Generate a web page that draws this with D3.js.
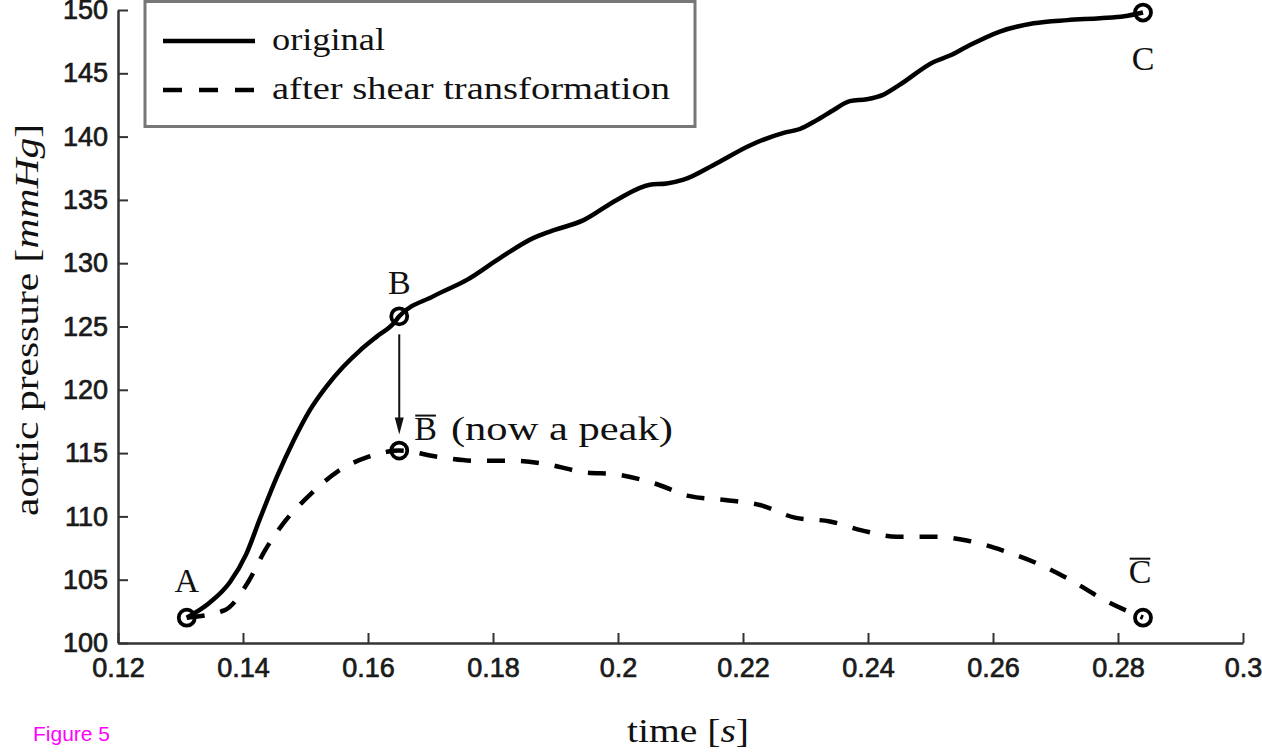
<!DOCTYPE html>
<html>
<head>
<meta charset="utf-8">
<script src="https://cdn.jsdelivr.net/npm/d3@7"></script>
<style>
  html, body { margin: 0; padding: 0; background: #fff; }
  svg { display: block; }
  .serif { font-family: "Liberation Serif", "Times New Roman", serif; fill: #111; }
  .tick text { font-family: "Liberation Sans", Arial, sans-serif; font-size: 27px; fill: #1a1a1a; stroke: #1a1a1a; stroke-width: 0.7px; }
</style>
</head>
<body>
<svg id="chart" width="1262" height="752"></svg>
<script>
// Aortic pressure during the upstroke, before and after a shear transformation
const origTime = [0.131, 0.1347, 0.1379, 0.1405, 0.1427, 0.1454, 0.1481, 0.1507, 0.1534, 0.1560,
  0.1587, 0.1614, 0.1640, 0.1650, 0.1705, 0.1759, 0.1811, 0.1865, 0.1891, 0.1945,
  0.1998, 0.2051, 0.2078, 0.2105, 0.2158, 0.2211, 0.2265, 0.2291, 0.2318, 0.2345,
  0.2371, 0.2398, 0.2424, 0.2451, 0.2505, 0.2531, 0.2558, 0.2611, 0.2665, 0.2719,
  0.2771, 0.2810, 0.2840];
const origPressure = [102.0, 103.2, 104.8, 107.0, 109.8, 113.1, 116.0, 118.4, 120.3, 121.8,
  123.1, 124.2, 125.2, 125.8, 127.4, 128.7, 130.4, 132.0, 132.5, 133.4,
  135.0, 136.2, 136.3, 136.6, 137.9, 139.3, 140.3, 140.6, 141.3, 142.1,
  142.8, 142.95, 143.3, 144.1, 145.9, 146.4, 147.1, 148.3, 148.95, 149.2,
  149.35, 149.5, 149.8];

const shearTime = [0.131, 0.1371, 0.1408, 0.1435, 0.1467, 0.1507, 0.1550, 0.1600, 0.1650, 0.1712,
  0.1771, 0.1832, 0.1888, 0.1944, 0.2000, 0.2059, 0.2115, 0.2171, 0.2227, 0.2283,
  0.2339, 0.2390, 0.2446, 0.2504, 0.2558, 0.2616, 0.2670, 0.2723, 0.2778, 0.2840];
const shearPressure = [102.0, 102.6, 104.8, 107.3, 109.6, 111.7, 113.5, 114.7, 115.2, 114.7,
  114.4, 114.4, 114.1, 113.5, 113.3, 112.6, 111.6, 111.3, 110.9, 109.9,
  109.6, 108.9, 108.4, 108.4, 108.1, 107.3, 106.3, 105.0, 103.4, 102.0];

// Marked points: A, B, C on the original curve; B-bar, C-bar after the shear
const keyNames = ["A", "B", "C", "B", "C"];
const keyTime = [0.131, 0.165, 0.284, 0.165, 0.284];
const keyPressure = [102.0, 125.8, 149.8, 115.2, 102.0];

const xTicks = [0.12, 0.14, 0.16, 0.18, 0.2, 0.22, 0.24, 0.26, 0.28, 0.3];
const xTickLabels = ["0.12", "0.14", "0.16", "0.18", "0.2", "0.22", "0.24", "0.26", "0.28", "0.3"];
const yTicks = [100, 105, 110, 115, 120, 125, 130, 135, 140, 145, 150];

const legendLabels = ["original", "after shear transformation"];

const svg = d3.select("#chart");
const x = d3.scaleLinear().domain([0.12, 0.3]).range([118, 1243]);
const y = d3.scaleLinear().domain([100, 150]).range([643, 10]);

// axes: left and bottom only, ticks pointing inward
const axisColor = "#333";
const gx = svg.append("g").attr("transform", `translate(0,${y(100)})`)
  .call(d3.axisBottom(x).tickValues(xTicks).tickFormat((d, i) => xTickLabels[i])
    .tickSizeInner(-10).tickSizeOuter(0).tickPadding(15));
const gy = svg.append("g").attr("transform", `translate(${x(0.12)},0)`)
  .call(d3.axisLeft(y).tickValues(yTicks).tickFormat(d3.format("d"))
    .tickSizeInner(-10).tickSizeOuter(0).tickPadding(10));
[gx, gy].forEach(g => {
  g.select(".domain").attr("stroke", axisColor).attr("stroke-width", 2.5);
  g.selectAll(".tick line").attr("stroke", axisColor).attr("stroke-width", 2);
});

// curves
const line = d3.line().x(d => x(d[0])).y(d => y(d[1])).curve(d3.curveMonotoneX);
svg.append("path")
  .datum(origTime.map((t, i) => [t, origPressure[i]]))
  .attr("d", line).attr("fill", "none").attr("stroke", "#000")
  .attr("stroke-width", 4.5).attr("stroke-linejoin", "round");
svg.append("path")
  .datum(shearTime.map((t, i) => [t, shearPressure[i]]))
  .attr("d", line).attr("fill", "none").attr("stroke", "#000")
  .attr("stroke-width", 4.5).attr("stroke-dasharray", "18,16");

// arrow from B down to B-bar
const bx = x(keyTime[1]);
const arrowTop = y(keyPressure[1]) + 18;
const arrowTip = y(keyPressure[3]) - 16;
svg.append("line").attr("x1", bx).attr("x2", bx)
  .attr("y1", arrowTop).attr("y2", arrowTip - 12)
  .attr("stroke", "#111").attr("stroke-width", 2);
svg.append("path")
  .attr("d", `M${bx - 4.5},${arrowTip - 17} L${bx + 4.5},${arrowTip - 17} L${bx},${arrowTip} Z`)
  .attr("fill", "#111");

// circle markers
svg.selectAll("circle.key").data(keyTime).enter().append("circle")
  .attr("class", "key")
  .attr("cx", d => x(d)).attr("cy", (d, i) => y(keyPressure[i]))
  .attr("r", 8).attr("fill", "none").attr("stroke", "#000").attr("stroke-width", 3.8);

// point labels
function letter(txt, cx, baseline, anchor) {
  const t = svg.append("text").attr("class", "serif")
    .attr("x", cx).attr("y", baseline).attr("text-anchor", anchor)
    .attr("font-size", 34).text(txt);
  return { node: t, bb: t.node().getBBox() };
}
function overline(bb) {
  svg.append("line")
    .attr("x1", bb.x + 1).attr("x2", bb.x + bb.width - 1)
    .attr("y1", bb.y + 6).attr("y2", bb.y + 6)
    .attr("stroke", "#111").attr("stroke-width", 2);
}
// A above its point, B above, C below
letter(keyNames[0], x(keyTime[0]), y(keyPressure[0]) - 26, "middle");
letter(keyNames[1], x(keyTime[1]), y(keyPressure[1]) - 22, "middle");
letter(keyNames[2], x(keyTime[2]), y(keyPressure[2]) + 57, "middle");

// B-bar with note
const bbar = letter(keyNames[3], x(keyTime[3]) + 15, y(keyPressure[3]) - 11, "start");
overline(bbar.bb);
svg.append("text").attr("class", "serif")
  .attr("x", bbar.bb.x + bbar.bb.width + 14).attr("y", y(keyPressure[3]) - 11)
  .attr("font-size", 34).attr("textLength", 222).attr("lengthAdjust", "spacingAndGlyphs")
  .text("(now a peak)");

// C-bar
const cbar = letter(keyNames[4], x(keyTime[4]) - 3, y(keyPressure[4]) - 35, "middle");
overline(cbar.bb);

// axis titles
const yl = svg.append("text").attr("class", "serif")
  .attr("transform", "translate(38,320) rotate(-90)")
  .attr("text-anchor", "middle").attr("font-size", 34)
  .attr("textLength", 392).attr("lengthAdjust", "spacingAndGlyphs");
yl.append("tspan").text("aortic pressure [");
yl.append("tspan").attr("font-style", "italic").text("mmHg");
yl.append("tspan").text("]");

const xl = svg.append("text").attr("class", "serif")
  .attr("x", 688).attr("y", 742)
  .attr("text-anchor", "middle").attr("font-size", 34)
  .attr("textLength", 122).attr("lengthAdjust", "spacingAndGlyphs");
xl.append("tspan").text("time [");
xl.append("tspan").attr("font-style", "italic").text("s");
xl.append("tspan").text("]");

// legend
const lg = svg.append("g");
lg.append("rect").attr("x", 145).attr("y", 1.5).attr("width", 550).attr("height", 125)
  .attr("fill", "#fff").attr("stroke", "#777").attr("stroke-width", 3);
lg.append("line").attr("x1", 163).attr("x2", 255).attr("y1", 41).attr("y2", 41)
  .attr("stroke", "#000").attr("stroke-width", 4.5);
lg.append("line").attr("x1", 163).attr("x2", 255).attr("y1", 90).attr("y2", 90)
  .attr("stroke", "#000").attr("stroke-width", 4.5).attr("stroke-dasharray", "19,17");
lg.append("text").attr("class", "serif").attr("x", 272).attr("y", 50)
  .attr("font-size", 32).attr("textLength", 113).attr("lengthAdjust", "spacingAndGlyphs")
  .text(legendLabels[0]);
lg.append("text").attr("class", "serif").attr("x", 272).attr("y", 99)
  .attr("font-size", 32).attr("textLength", 398).attr("lengthAdjust", "spacingAndGlyphs")
  .text(legendLabels[1]);

// figure caption
svg.append("text").attr("x", 33).attr("y", 741)
  .attr("font-family", "Liberation Sans, Arial, sans-serif").attr("font-size", 21)
  .attr("fill", "#f0f").text("Figure 5");
</script>
</body>
</html>
